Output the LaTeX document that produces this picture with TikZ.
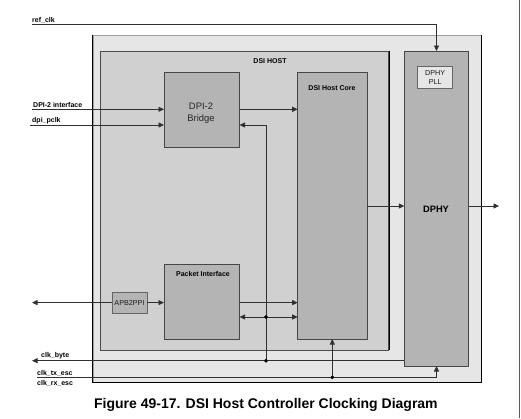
\documentclass[tikz,border=0pt]{standalone}
\usepackage{fontspec}
\setmainfont{Liberation Sans}
\usetikzlibrary{arrows.meta}
\definecolor{outerfill}{HTML}{E6E6E6}
\definecolor{hostfill}{HTML}{D0D0D0}
\definecolor{blockfill}{HTML}{B4B4B4}
\definecolor{linec}{HTML}{303030}
\definecolor{txtc}{HTML}{1A1A1A}
\begin{document}
\begin{tikzpicture}[x=1pt,y=-1pt,
 blk/.style={draw=black!72, line width=0.8pt, fill=blockfill, inner sep=0pt, outer sep=0pt},
 conn/.style={draw=linec, line width=0.8pt},
 arr/.style={conn, -{Triangle[length=5.5pt,width=5pt]}},
 lbl/.style={font=\fontsize{7}{8}\selectfont\bfseries, inner sep=0pt, text=black},
 inlbl/.style={font=\fontsize{7}{9}\selectfont, inner sep=0pt, text=txtc, align=center},
 dot/.style={circle, fill=black, inner sep=0pt, minimum size=3.6pt},
]
\useasboundingbox (0,0) rectangle (521,418);
\fill[white] (0,0) rectangle (521,418);
\draw[black!65, line width=0.8pt] (519.5,0) -- (519.5,418);

% containers
\node[draw=gray!75, line width=0.8pt, fill=outerfill, inner sep=0pt, minimum width=388pt, minimum height=347pt] (outer) at (287,208.5) {};
\draw[black, line width=0.9pt] (outer.north west) -- (outer.south west) -- (outer.south east) -- (outer.north east);
\node[draw=gray!60!black, line width=0.8pt, fill=hostfill, inner sep=0pt, minimum width=288.7pt, minimum height=299pt] (host) at (244.35,200.5) {};
\draw[black, line width=0.8pt] (host.north east) -- (host.south east);
\node[lbl] (hostlbl) at (270,60.7) {DSI HOST};

% blocks
\node[blk, minimum width=75.5pt, minimum height=75pt] (bridge) at (201.75,109.5) {};
\node[inlbl, font=\fontsize{9.4}{12}\selectfont, text=black!85] (bridgelbl) at (201,113) {DPI-2\\Bridge};
\node[blk, minimum width=69.6pt, minimum height=267pt] (core) at (332.5,205.5) {};
\node[lbl] (corelbl) at (332,88.5) {DSI Host Core};
\node[blk, minimum width=75.5pt, minimum height=75pt] (packet) at (201.75,301.8) {};
\node[lbl] (packetlbl) at (203,273.5) {Packet Interface};
\node[blk, draw=black!60, minimum width=35pt, minimum height=21.3pt] (apb) at (129.5,302.65) {};
\node[inlbl, font=\fontsize{7.2}{9}\selectfont] (apblbl) at (129.5,302.8) {APB2PPI};
\node[blk, minimum width=64.4pt, minimum height=315pt] (dphy) at (436.5,208.5) {};
\node[lbl, font=\fontsize{9.3}{11}\selectfont\bfseries] (dphylbl) at (436,209.5) {DPHY};
\node[draw=black!60, line width=0.8pt, fill=outerfill, inner sep=0pt, minimum width=35pt, minimum height=22pt] (pll) at (435.2,77) {};
\node[inlbl, font=\fontsize{7.2}{9}\selectfont] (plllbl) at (435.2,77.3) {DPHY\\PLL};

% end points and junctions
\coordinate (refin) at (32,24);
\coordinate (dpiin) at (32,109.3);
\coordinate (pclkin) at (30,125);
\coordinate (apbout) at (32,302.6);
\coordinate (byteout) at (32,360.7);
\coordinate (escin) at (37,377.3);
\coordinate (dphyout) at (499,206);
\node[dot] (jbyte) at (266,360.7) {};
\node[dot] (jpkt) at (266,317) {};
\node[dot] (jesc) at (332.3,377.3) {};

% signal labels
\node[lbl, anchor=base west] (reflbl) at (32,22) {ref\_clk};
\node[lbl, anchor=base west] (dpilbl) at (33,107.8) {DPI-2 interface};
\node[lbl, anchor=base west] (pclklbl) at (32,122.6) {dpi\_pclk};
\node[lbl, anchor=base west] (bytelbl) at (41,357.3) {clk\_byte};
\node[lbl, anchor=base west] (txlbl) at (37,375) {clk\_tx\_esc};
\node[lbl, anchor=base west] (rxlbl) at (37,385.2) {clk\_rx\_esc};

% connectors
\draw[arr] (refin) -| (dphy.north);
\draw[arr] (dpiin) -- (dpiin -| bridge.west);
\draw[arr] (pclkin) -- (pclkin -| bridge.west);
\draw[arr] (bridge.east |- dpiin) -- (dpiin -| core.west);
\draw[arr] (jbyte.center) |- (pclkin -| bridge.east);
\draw[arr] (jpkt.center) -- (jpkt -| packet.east);
\draw[arr] (jpkt.center) -- (jpkt -| core.west);
\draw[arr] (packet.east |- apbout) -- (apbout -| core.west);
\draw[arr] (apb.east |- apbout) -- (apbout -| packet.west);
\draw[arr] (apb.west |- apbout) -- (apbout);
\draw[arr] (dphy.west |- byteout) -- (byteout);
\draw[arr] (escin) -| (dphy.south);
\draw[arr] (jesc.center) -- (jesc |- core.south);
\draw[arr] (core.east |- dphyout) -- (dphyout -| dphy.west);
\draw[arr] (dphy.east |- dphyout) -- (dphyout);
\node[dot] at (jbyte) {};
\node[dot] at (jpkt) {};
\node[dot] at (jesc) {};

% caption
\node[font=\fontsize{14}{16}\selectfont\bfseries, anchor=base, inner sep=0pt] (cap) at (265.9,408.3) {Figure 49-17. DSI Host Controller Clocking Diagram};
\end{tikzpicture}
\end{document}
